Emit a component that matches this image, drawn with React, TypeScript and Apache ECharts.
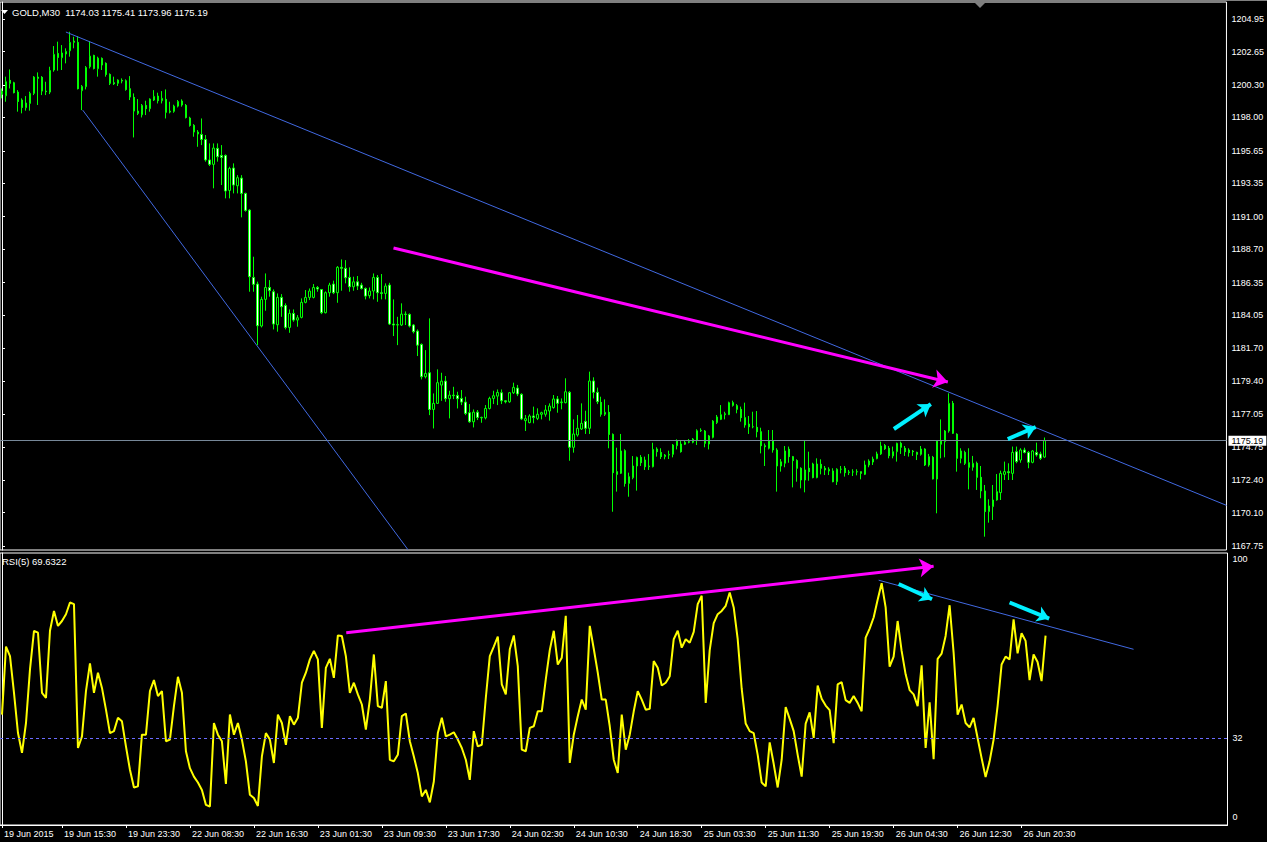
import React, { useEffect, useRef } from "react";
import * as echarts from "echarts";

const FONT = "'Liberation Sans', Arial, sans-serif";

const symbolName = "GOLD";
const timeframe = "M30";
const firstBarUtc = Date.UTC(2015, 5, 19, 8, 0);
const futureBars = 45;
const monthNames = ["Jan", "Feb", "Mar", "Apr", "May", "Jun", "Jul", "Aug", "Sep", "Oct", "Nov", "Dec"];

const opens = [
  1199.63, 1199.53, 1200.62, 1200.45, 1199.79, 1199.23, 1198.69, 1198.99, 1199.70, 1200.85,
  1200.83, 1199.86, 1199.79, 1201.35, 1202.52, 1202.22, 1202.48, 1202.71, 1203.30, 1203.30,
  1199.89, 1200.17, 1201.58, 1202.38, 1201.44, 1202.17, 1201.82, 1201.04, 1200.45, 1200.41,
  1200.62, 1200.59, 1200.03, 1199.42, 1198.45, 1198.19, 1198.85, 1198.62, 1199.23, 1199.51,
  1199.18, 1199.28, 1198.38, 1198.43, 1198.80, 1199.16, 1198.85, 1197.96, 1197.44, 1196.97,
  1196.80, 1196.45, 1195.00, 1194.69, 1195.82, 1195.32, 1195.32, 1192.85, 1194.43, 1193.18,
  1193.72, 1192.64, 1191.46, 1186.71, 1186.24, 1183.28, 1185.16, 1186.00, 1185.70, 1183.37,
  1185.30, 1184.73, 1183.18, 1184.17, 1183.70, 1183.89, 1184.95, 1185.30, 1185.30, 1186.00,
  1185.86, 1184.22, 1185.63, 1186.24, 1185.63, 1187.42, 1187.35, 1186.71, 1186.05, 1186.40,
  1186.17, 1185.93, 1185.42, 1185.75, 1186.71, 1185.63, 1185.58, 1186.17, 1183.42, 1183.35,
  1183.35, 1184.12, 1184.10, 1183.35, 1182.92, 1181.98, 1179.70, 1179.98, 1177.39, 1177.82,
  1179.11, 1179.39, 1178.15, 1178.40, 1178.38, 1178.17, 1177.91, 1177.16, 1176.52, 1177.20,
  1176.83, 1176.80, 1177.46, 1178.17, 1178.33, 1178.57, 1178.00, 1177.93, 1178.57, 1178.90,
  1178.46, 1176.60, 1176.46, 1176.93, 1176.76, 1177.05, 1177.05, 1177.28, 1177.52, 1178.13,
  1177.87, 1177.87, 1178.60, 1174.72, 1175.59, 1176.01, 1176.55, 1176.06, 1179.40, 1178.60,
  1177.89, 1177.05, 1177.19, 1175.63, 1173.00, 1172.88, 1174.48, 1172.17, 1172.57, 1173.40,
  1174.01, 1173.82, 1173.35, 1173.35, 1174.60, 1174.36, 1174.06, 1174.17, 1174.22, 1174.83,
  1174.95, 1174.93, 1175.07, 1175.07, 1175.23, 1175.89, 1175.87, 1174.95, 1175.42, 1176.46,
  1176.69, 1177.02, 1177.02, 1177.87, 1177.66, 1177.40, 1176.81, 1176.36, 1176.17, 1176.13,
  1175.82, 1174.83, 1174.65, 1175.16, 1174.53, 1173.40, 1173.59, 1174.58, 1174.06, 1173.78,
  1173.24, 1172.41, 1173.24, 1173.54, 1172.58, 1173.52, 1173.24, 1173.05, 1173.05, 1172.29,
  1173.17, 1173.24, 1172.93, 1172.98, 1172.98, 1173.00, 1172.81, 1173.47, 1173.68, 1173.92,
  1174.25, 1174.84, 1174.65, 1174.11, 1174.41, 1175.00, 1174.65, 1174.53, 1174.45, 1174.36,
  1174.22, 1174.60, 1173.47, 1174.01, 1172.48, 1174.93, 1175.12, 1175.87, 1177.82, 1175.64,
  1173.94, 1174.36, 1173.63, 1173.31, 1173.59, 1172.60, 1171.64, 1170.18, 1170.53, 1171.00,
  1171.52, 1172.81, 1173.00, 1172.88, 1174.41, 1173.82, 1174.53, 1174.36, 1173.66, 1174.36,
  1174.25, 1174.03,
];

const highs = [
  1200.05, 1200.88, 1201.39, 1200.52, 1199.93, 1199.35, 1199.51, 1199.82, 1200.92, 1201.18,
  1200.92, 1200.52, 1201.58, 1203.04, 1203.35, 1203.11, 1202.88, 1204.05, 1203.70, 1203.75,
  1200.29, 1201.63, 1203.39, 1202.43, 1202.29, 1202.24, 1201.89, 1201.11, 1200.88, 1200.69,
  1200.76, 1200.69, 1200.92, 1199.70, 1199.30, 1198.95, 1199.18, 1199.35, 1199.93, 1199.75,
  1199.86, 1199.98, 1199.11, 1198.90, 1199.23, 1199.28, 1198.95, 1198.05, 1197.53, 1197.11,
  1197.93, 1196.76, 1196.17, 1196.17, 1196.17, 1196.05, 1195.39, 1194.52, 1194.76, 1193.93,
  1193.93, 1192.69, 1191.53, 1188.17, 1186.41, 1185.35, 1186.99, 1186.52, 1185.86, 1185.58,
  1185.53, 1184.88, 1184.45, 1184.45, 1184.05, 1185.23, 1185.82, 1185.93, 1186.24, 1186.10,
  1185.89, 1185.72, 1186.33, 1186.48, 1187.51, 1187.98, 1187.93, 1187.42, 1186.76, 1186.81,
  1186.33, 1186.00, 1186.00, 1186.99, 1186.88, 1186.95, 1186.29, 1186.33, 1185.16, 1183.93,
  1184.88, 1184.31, 1184.17, 1183.42, 1183.04, 1182.05, 1181.58, 1183.82, 1178.52, 1180.22,
  1179.98, 1179.75, 1178.71, 1178.99, 1178.64, 1178.76, 1178.29, 1177.77, 1177.39, 1177.35,
  1176.88, 1177.70, 1178.29, 1178.71, 1178.80, 1178.80, 1178.05, 1178.62, 1179.28, 1179.12,
  1178.53, 1177.00, 1177.05, 1177.59, 1177.47, 1177.23, 1177.70, 1177.82, 1178.41, 1178.34,
  1178.17, 1179.59, 1178.69, 1176.69, 1177.00, 1177.82, 1177.30, 1180.06, 1179.66, 1178.93,
  1178.29, 1178.10, 1177.70, 1175.70, 1174.69, 1175.66, 1174.58, 1172.93, 1174.10, 1174.06,
  1174.17, 1174.06, 1174.24, 1175.04, 1174.72, 1174.65, 1174.24, 1174.48, 1174.95, 1175.28,
  1175.16, 1175.23, 1175.30, 1175.37, 1175.99, 1176.06, 1175.94, 1175.59, 1176.64, 1177.00,
  1177.70, 1177.23, 1177.94, 1178.01, 1177.77, 1177.59, 1177.87, 1176.93, 1177.23, 1177.28,
  1176.10, 1174.99, 1175.94, 1175.94, 1174.65, 1173.89, 1174.81, 1174.77, 1174.11, 1173.87,
  1173.31, 1175.23, 1174.41, 1173.63, 1173.94, 1173.87, 1173.40, 1173.31, 1173.24, 1173.24,
  1173.40, 1173.40, 1173.12, 1173.17, 1173.17, 1173.00, 1173.78, 1173.87, 1174.06, 1174.41,
  1175.12, 1174.95, 1174.81, 1174.77, 1175.05, 1175.12, 1174.81, 1174.65, 1174.53, 1174.41,
  1174.81, 1174.65, 1174.25, 1174.11, 1175.23, 1176.69, 1175.94, 1178.53, 1177.99, 1175.71,
  1174.65, 1174.48, 1174.65, 1174.11, 1173.71, 1173.40, 1172.06, 1171.05, 1172.06, 1172.83,
  1173.07, 1173.71, 1173.59, 1174.77, 1174.77, 1174.65, 1174.69, 1174.46, 1174.53, 1175.05,
  1174.41, 1175.41,
];

const lows = [
  1199.35, 1199.11, 1200.05, 1199.70, 1198.41, 1198.29, 1198.48, 1198.48, 1199.58, 1198.88,
  1199.58, 1199.58, 1199.65, 1201.23, 1201.30, 1201.35, 1201.82, 1202.29, 1202.88, 1199.98,
  1198.52, 1199.98, 1201.46, 1201.39, 1200.88, 1201.35, 1200.88, 1200.29, 1200.29, 1200.22,
  1200.41, 1199.89, 1199.23, 1196.59, 1198.17, 1198.00, 1198.17, 1198.41, 1199.16, 1198.99,
  1198.99, 1197.93, 1198.29, 1198.33, 1198.71, 1198.76, 1197.93, 1197.35, 1196.64, 1195.93,
  1196.05, 1194.88, 1194.57, 1193.00, 1194.88, 1193.23, 1192.29, 1192.29, 1192.64, 1192.64,
  1190.95, 1191.35, 1185.70, 1185.70, 1181.93, 1183.18, 1184.36, 1185.35, 1183.04, 1182.88,
  1183.93, 1183.04, 1182.80, 1183.58, 1183.23, 1183.82, 1184.88, 1185.11, 1185.23, 1185.70,
  1184.12, 1184.17, 1185.35, 1185.53, 1184.92, 1185.77, 1186.29, 1185.70, 1185.77, 1185.82,
  1185.86, 1185.16, 1185.23, 1185.16, 1184.99, 1185.16, 1185.16, 1183.35, 1182.57, 1181.93,
  1183.28, 1183.35, 1183.18, 1182.76, 1181.16, 1179.51, 1179.58, 1176.99, 1176.05, 1177.78,
  1178.00, 1177.93, 1176.76, 1178.12, 1177.46, 1177.70, 1176.99, 1176.45, 1176.12, 1176.64,
  1176.45, 1176.69, 1177.39, 1177.77, 1177.70, 1177.77, 1177.82, 1177.86, 1178.48, 1178.33,
  1176.64, 1175.87, 1176.41, 1176.41, 1176.64, 1176.69, 1176.88, 1176.60, 1177.45, 1177.16,
  1177.40, 1177.82, 1173.77, 1174.34, 1175.47, 1175.94, 1175.66, 1175.66, 1178.17, 1177.77,
  1176.88, 1176.93, 1174.65, 1170.17, 1171.59, 1172.83, 1171.94, 1171.23, 1172.46, 1171.66,
  1173.40, 1173.12, 1173.12, 1173.30, 1174.06, 1173.89, 1173.87, 1173.89, 1174.01, 1174.57,
  1174.34, 1174.88, 1175.00, 1175.00, 1174.88, 1175.80, 1174.72, 1174.57, 1175.35, 1176.36,
  1176.64, 1176.69, 1177.00, 1177.59, 1177.12, 1176.53, 1176.10, 1175.66, 1176.06, 1175.42,
  1174.29, 1173.40, 1174.57, 1174.34, 1171.59, 1173.00, 1173.31, 1173.63, 1171.89, 1172.29,
  1171.82, 1171.54, 1172.36, 1172.53, 1172.53, 1172.81, 1172.76, 1172.76, 1172.25, 1172.06,
  1172.88, 1172.65, 1172.76, 1172.69, 1172.74, 1172.46, 1172.76, 1173.31, 1173.47, 1173.87,
  1174.18, 1174.53, 1173.94, 1173.94, 1173.71, 1174.25, 1174.11, 1174.06, 1174.11, 1173.82,
  1174.13, 1173.40, 1173.35, 1172.45, 1170.06, 1173.94, 1174.01, 1175.75, 1175.66, 1173.00,
  1173.59, 1173.47, 1171.75, 1173.07, 1171.71, 1171.12, 1168.41, 1169.40, 1169.59, 1170.95,
  1171.00, 1172.41, 1172.41, 1172.41, 1173.59, 1173.63, 1174.29, 1173.24, 1173.59, 1174.06,
  1173.82, 1173.96,
];

const closes = [
  1199.86, 1200.52, 1200.41, 1199.75, 1199.13, 1198.71, 1199.02, 1199.70, 1200.85, 1200.76,
  1199.86, 1199.82, 1201.32, 1202.45, 1202.24, 1202.55, 1202.66, 1203.30, 1203.39, 1200.03,
  1200.19, 1201.53, 1202.33, 1201.46, 1202.19, 1201.70, 1201.04, 1200.41, 1200.38, 1200.64,
  1200.57, 1199.98, 1199.44, 1198.45, 1198.29, 1198.85, 1198.62, 1199.30, 1199.49, 1199.18,
  1199.35, 1198.36, 1198.45, 1198.80, 1199.13, 1198.88, 1198.00, 1197.44, 1196.97, 1196.83,
  1196.45, 1195.00, 1194.69, 1195.84, 1195.23, 1195.18, 1192.81, 1194.40, 1193.23, 1193.75,
  1192.64, 1191.44, 1186.76, 1186.22, 1183.30, 1185.16, 1186.00, 1185.77, 1183.42, 1185.30,
  1184.64, 1183.18, 1184.17, 1183.70, 1183.86, 1184.95, 1185.30, 1185.75, 1186.00, 1185.89,
  1184.22, 1185.63, 1186.17, 1185.63, 1187.42, 1187.35, 1186.69, 1186.05, 1186.40, 1186.10,
  1185.93, 1185.39, 1185.75, 1186.71, 1185.63, 1185.58, 1186.10, 1183.42, 1183.35, 1183.38,
  1184.12, 1184.10, 1183.28, 1182.88, 1181.93, 1179.70, 1179.93, 1177.39, 1177.82, 1179.28,
  1179.39, 1178.15, 1178.40, 1178.36, 1178.15, 1177.91, 1177.11, 1176.52, 1177.20, 1176.83,
  1176.80, 1177.46, 1178.17, 1178.36, 1178.59, 1178.00, 1177.93, 1178.57, 1178.95, 1178.48,
  1176.72, 1176.74, 1176.93, 1176.83, 1177.05, 1177.16, 1177.35, 1177.63, 1178.13, 1177.82,
  1177.92, 1178.64, 1174.72, 1175.66, 1176.06, 1176.41, 1176.06, 1179.40, 1178.60, 1177.94,
  1177.05, 1177.19, 1175.63, 1172.93, 1172.81, 1174.46, 1172.17, 1172.65, 1173.40, 1174.01,
  1173.63, 1173.35, 1173.40, 1174.57, 1174.41, 1174.06, 1174.17, 1174.22, 1174.88, 1175.19,
  1174.41, 1175.07, 1175.12, 1175.30, 1175.89, 1175.92, 1175.00, 1175.52, 1176.57, 1176.86,
  1177.02, 1177.09, 1177.87, 1177.68, 1177.40, 1176.81, 1176.29, 1176.17, 1176.17, 1175.82,
  1174.83, 1174.76, 1175.16, 1174.53, 1173.40, 1173.70, 1174.46, 1174.06, 1173.78, 1173.24,
  1172.41, 1173.12, 1173.00, 1172.58, 1173.54, 1173.24, 1173.12, 1173.17, 1172.29, 1173.17,
  1173.17, 1172.93, 1172.98, 1172.98, 1173.00, 1172.88, 1173.47, 1173.75, 1173.89, 1174.25,
  1174.81, 1174.62, 1174.13, 1174.41, 1175.00, 1174.72, 1174.41, 1174.34, 1174.41, 1174.22,
  1174.60, 1173.47, 1174.06, 1172.48, 1175.16, 1175.16, 1175.87, 1177.82, 1175.71, 1173.94,
  1174.46, 1173.59, 1173.31, 1173.59, 1172.60, 1171.64, 1170.18, 1170.58, 1171.00, 1171.59,
  1172.88, 1173.00, 1172.93, 1174.36, 1173.71, 1174.53, 1174.36, 1173.66, 1174.46, 1174.18,
  1173.94, 1175.19,
];

const rsiPeriod = 5;
const rsiLast = 69.6322;
const rsiLevel = 32;
const rsiValues = [
  40.6, 65.6, 62.1, 48.6, 33.8, 26.5, 37.5, 57.2, 71.4, 70.7,
  48.6, 46.7, 71.4, 78.7, 73.2, 75.0, 77.5, 81.8, 81.2, 28.3,
  32.6, 49.2, 59.4, 48.6, 56.0, 50.4, 42.4, 33.8, 34.5, 39.4,
  38.1, 28.9, 20.3, 13.8, 14.2, 33.2, 33.2, 49.2, 53.3, 47.4,
  49.2, 30.8, 31.4, 43.7, 54.5, 48.6, 27.1, 20.9, 17.8, 15.6,
  12.9, 7.4, 6.8, 37.5, 33.2, 30.8, 15.1, 40.6, 33.2, 37.5,
  31.4, 23.4, 11.1, 9.9, 7.0, 25.2, 33.8, 31.4, 22.8, 40.6,
  37.5, 29.5, 40.0, 36.9, 39.4, 52.3, 56.0, 60.9, 64.0, 60.9,
  35.7, 57.8, 61.1, 54.1, 69.7, 69.5, 62.1, 48.6, 52.3, 48.0,
  44.3, 35.1, 46.1, 62.7, 43.7, 43.1, 52.9, 24.0, 23.4, 25.8,
  40.0, 41.0, 30.8, 25.2, 19.1, 10.5, 12.9, 8.3, 16.0, 33.8,
  39.4, 32.6, 33.2, 34.1, 31.4, 28.3, 24.0, 16.6, 34.5, 28.9,
  29.5, 46.7, 62.1, 65.6, 69.3, 51.7, 48.0, 64.6, 69.7, 58.4,
  27.7, 27.1, 35.7, 36.3, 41.8, 41.8, 53.5, 64.3, 71.4, 59.0,
  61.5, 76.9, 22.8, 33.2, 40.0, 46.1, 42.4, 73.2, 64.8, 56.0,
  46.1, 46.1, 36.3, 24.0, 19.1, 40.6, 27.7, 33.2, 41.8, 49.2,
  46.1, 42.4, 42.7, 60.3, 57.8, 51.3, 52.3, 54.7, 68.3, 71.4,
  65.2, 68.3, 67.0, 71.0, 81.2, 84.3, 44.9, 64.3, 74.2, 77.5,
  78.7, 80.6, 85.5, 80.0, 68.3, 50.1, 37.3, 34.5, 33.8, 25.8,
  15.6, 14.2, 30.4, 22.5, 13.8, 24.0, 43.4, 39.0, 34.5, 25.8,
  17.8, 37.3, 41.4, 32.0, 51.3, 46.4, 43.9, 42.2, 30.1, 51.7,
  52.5, 45.9, 44.9, 47.4, 44.9, 41.8, 68.9, 72.2, 76.3, 82.8,
  88.9, 80.0, 58.2, 61.9, 75.0, 64.0, 55.4, 49.6, 48.0, 43.7,
  58.7, 28.3, 45.1, 24.2, 61.1, 63.0, 69.5, 80.8, 63.4, 40.6,
  44.3, 37.5, 35.9, 39.4, 32.0, 24.6, 17.6, 23.4, 31.4, 43.7,
  59.0, 61.9, 60.9, 75.6, 63.1, 70.5, 67.7, 53.3, 62.7, 59.9,
  52.9, 69.63,
];

const priceTicks = [
  1204.95, 1202.65, 1200.3, 1198.0, 1195.65, 1193.35, 1191.0, 1188.7, 1186.35,
  1184.05, 1181.7, 1179.4, 1177.05, 1174.75, 1172.4, 1170.1, 1167.75,
];
const rsiTicks = [0, 32, 100];
const priceMin = 1167.47;
const priceMax = 1206.15;

// annotations: [barIndex, value]
const priceTrendLines = [
  [[16, 1204.03], [306.5, 1170.62]],
  [[20.2, 1198.52], [101.6, 1167.5]],
];
const priceMagentaArrows = [[[98, 1188.79], [236.75, 1179.33]]];
const priceCyanArrows = [
  [[223.25, 1176.01], [232.5, 1177.77]],
  [[251.75, 1175.3], [258.75, 1176.15]],
];
const rsiTrendLines = [[[219.25, 90.0], [283, 64.6]]];
const rsiMagentaArrows = [[[86.1, 70.7], [233, 95.1]]];
const rsiCyanArrows = [
  [[224.25, 88.6], [232.6, 83.0]],
  [[252, 81.8], [261.9, 75.9]],
];

const pad2 = (n: number) => (n < 10 ? "0" + n : String(n));

function buildBarLabels(count: number) {
  const out: string[] = [];
  let t = firstBarUtc;
  let first = "";
  while (out.length < count) {
    const d = new Date(t);
    const wd = d.getUTCDay();
    if (wd !== 0 && wd !== 6 && d.getUTCHours() !== 0) {
      const base = `${d.getUTCDate()} ${monthNames[d.getUTCMonth()]}`;
      if (!first) first = `${base} ${d.getUTCFullYear()}`;
      out.push(`${base} ${pad2(d.getUTCHours())}:${pad2(d.getUTCMinutes())}`);
    }
    t += 30 * 60 * 1000;
  }
  return { labels: out, first };
}

function buildOption() {
  const N = closes.length;
  const slots = N + futureBars;
  const { labels, first } = buildBarLabels(N);
  const categories = [...labels, ...Array(futureBars).fill("")];
  const lastIdx = N - 1;
  const lastClose = closes[lastIdx];
  const showLabel = (i: number) => i === 0 || (i < N && i % 16 === 15);

  const axisText = { color: "#ffffff", fontSize: 9, fontFamily: FONT };
  const lineSeries = (
    xi: number,
    yi: number,
    segs: number[][][],
    color: string,
    width: number,
    arrow: boolean,
    size: number[]
  ) => ({
    type: "lines",
    coordinateSystem: "cartesian2d",
    xAxisIndex: xi,
    yAxisIndex: yi,
    silent: true,
    clip: true,
    z: 5,
    symbol: arrow ? ["none", "arrow"] : ["none", "none"],
    symbolSize: size,
    lineStyle: { color, width, opacity: 1, curveness: 0 },
    data: segs.map((c) => ({ coords: c })),
  });

  return {
    animation: false,
    backgroundColor: "#000000",
    grid: [
      {
        left: -0.5, top: 2, width: slots * 4, height: 548,
        show: true, borderColor: "#ffffff", borderWidth: 1, backgroundColor: "#000000",
      },
      {
        left: -0.5, top: 553, width: slots * 4, height: 272,
        show: true, borderColor: "#ffffff", borderWidth: 1, backgroundColor: "#000000",
      },
    ],
    xAxis: [
      { type: "category", gridIndex: 0, data: categories, boundaryGap: true, show: false },
      {
        type: "category", gridIndex: 1, data: categories, boundaryGap: true, position: "bottom",
        axisLine: { show: true, lineStyle: { color: "#ffffff" } },
        axisTick: { show: true, alignWithLabel: true, interval: (i: number) => showLabel(i), length: 3, lineStyle: { color: "#ffffff" } },
        axisLabel: {
          ...axisText,
          interval: (i: number) => showLabel(i),
          formatter: (v: string, i: number) => (i === 0 ? first : v),
          align: "left",
          margin: 4,
          padding: [0, 0, 0, 2],
        },
        splitLine: { show: false },
      },
      { type: "value", gridIndex: 0, min: -0.5, max: slots - 0.5, show: false, splitLine: { show: false } },
      { type: "value", gridIndex: 1, min: -0.5, max: slots - 0.5, show: false, splitLine: { show: false } },
    ],
    yAxis: [
      {
        type: "value", gridIndex: 0, position: "right", min: priceMin, max: priceMax,
        splitLine: { show: false },
        axisLine: { show: true, lineStyle: { color: "#ffffff" } },
        axisTick: { show: true, length: 3, lineStyle: { color: "#ffffff" }, customValues: priceTicks },
        axisLabel: { ...axisText, margin: 5, customValues: priceTicks, formatter: (v: number) => v.toFixed(2) },
      },
      {
        type: "value", gridIndex: 1, position: "right", min: 0, max: 100,
        splitLine: { show: false },
        axisLine: { show: true, lineStyle: { color: "#ffffff" } },
        axisTick: { show: false, customValues: rsiTicks },
        axisLabel: {
          ...axisText,
          margin: 5,
          customValues: rsiTicks,
          formatter: (v: number) => (v === 100 ? "{hi|100}" : v === 0 ? "{lo|0}" : `{mid|${v}}`),
          rich: {
            hi: { ...axisText, padding: [12, 0, 0, 0] },
            lo: { ...axisText, padding: [0, 0, 16, 0] },
            mid: { ...axisText },
          },
        },
      },
    ],
    series: [
      {
        type: "candlestick",
        xAxisIndex: 0,
        yAxisIndex: 0,
        barWidth: 2,
        silent: true,
        data: opens.map((o, i) => [o, closes[i], lows[i], highs[i]]),
        itemStyle: {
          color: "#000000",
          color0: "#ffffff",
          borderColor: "#00ff00",
          borderColor0: "#00ff00",
          borderColorDoji: "#00ff00",
          borderWidth: 1,
        },
        markLine: {
          silent: true,
          symbol: ["none", "none"],
          lineStyle: { color: "#778899", width: 1, type: "solid" },
          label: {
            show: true,
            position: "end",
            distance: 2,
            formatter: () => lastClose.toFixed(2),
            backgroundColor: "#ffffff",
            color: "#000000",
            fontSize: 9,
            fontFamily: FONT,
            padding: [1, 3, 0, 3],
          },
          data: [{ yAxis: lastClose }],
        },
      },
      lineSeries(2, 0, priceTrendLines, "#4169e1", 1, false, [1, 1]),
      lineSeries(2, 0, priceMagentaArrows, "#ff00ff", 3, true, [10, 14]),
      lineSeries(2, 0, priceCyanArrows, "#00f0ff", 4, true, [12, 12]),
      {
        type: "line",
        xAxisIndex: 1,
        yAxisIndex: 1,
        data: rsiValues,
        silent: true,
        showSymbol: false,
        symbol: "none",
        z: 3,
        lineStyle: { color: "#ffff00", width: 2 },
        markLine: {
          silent: true,
          symbol: ["none", "none"],
          label: { show: false },
          lineStyle: { color: "#6b6bff", width: 1, type: [3, 3] },
          data: [{ yAxis: rsiLevel }],
        },
      },
      lineSeries(3, 1, rsiTrendLines, "#4169e1", 1, false, [1, 1]),
      lineSeries(3, 1, rsiMagentaArrows, "#ff00ff", 3, true, [10, 14]),
      lineSeries(3, 1, rsiCyanArrows, "#00f0ff", 4, true, [12, 12]),
    ],
    graphic: [
      { type: "rect", left: 0, top: 0, shape: { width: 1267, height: 1 }, style: { fill: "#808080" }, silent: true },
      { type: "polygon", shape: { points: [[1, 10], [8, 10], [4.5, 14]] }, style: { fill: "#ffffff" }, silent: true },
      {
        type: "text", x: 12, y: 12, silent: true,
        style: {
          text: `${symbolName},${timeframe}  ${opens[lastIdx].toFixed(2)} ${highs[lastIdx].toFixed(2)} ${lows[lastIdx].toFixed(2)} ${closes[lastIdx].toFixed(2)}`,
          fill: "#ffffff", fontSize: 9.5, fontFamily: FONT, verticalAlign: "middle",
        },
      },
      { type: "polygon", shape: { points: [[974, 2], [986, 2], [980, 8]] }, style: { fill: "#808080" }, silent: true },
      {
        type: "text", x: 2, y: 561, silent: true,
        style: {
          text: `RSI(${rsiPeriod}) ${rsiLast.toFixed(4)}`,
          fill: "#ffffff", fontSize: 9.5, fontFamily: FONT, verticalAlign: "middle",
        },
      },
    ],
  };
}

export default function App() {
  const ref = useRef<HTMLDivElement>(null);
  useEffect(() => {
    if (!ref.current) return;
    document.body.style.margin = "0";
    document.body.style.background = "#000000";
    const chart = echarts.init(ref.current, undefined, { renderer: "svg" });
    chart.setOption(buildOption() as any);
    return () => chart.dispose();
  }, []);
  return (
    <div
      ref={ref}
      style={{ position: "absolute", left: 0, top: 0, width: 1267, height: 842, background: "#000000" }}
    />
  );
}
